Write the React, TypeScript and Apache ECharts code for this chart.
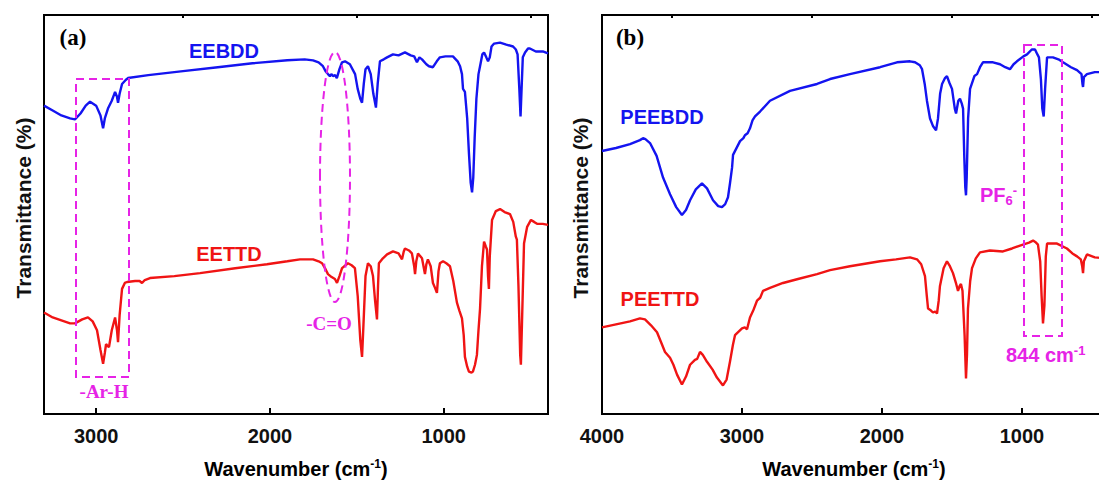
import React, { useEffect, useRef } from "react";
import * as echarts from "echarts";

// ---- data (wavenumber cm-1, relative transmittance, arbitrary units) ----
const eebdd: number[][] = [
  [3300, 313], [3250, 308], [3200, 303], [3150, 300], [3122, 299], [3090, 305], [3060, 313], [3035, 317],
  [3000, 313], [2975, 303], [2960, 290], [2950, 300], [2932, 310], [2910, 318], [2891, 327], [2880, 322],
  [2874, 316], [2865, 325], [2851, 335], [2830, 339], [2817, 341], [2700, 344], [2500, 348], [2300, 352],
  [2100, 356], [1900, 359], [1800, 360], [1752, 359], [1720, 357], [1695, 353], [1680, 348], [1666, 345],
  [1655, 343], [1645, 345], [1637, 343], [1625, 344], [1615, 341], [1600, 350], [1585, 357], [1568, 358],
  [1540, 355], [1510, 345], [1495, 330], [1480, 320], [1470, 316], [1460, 335], [1450, 350], [1436, 353],
  [1420, 345], [1405, 325], [1390, 311], [1380, 335], [1367, 358], [1345, 360], [1326, 362], [1292, 365],
  [1260, 364], [1223, 367], [1190, 364], [1170, 363], [1154, 357], [1140, 362], [1125, 360], [1100, 355],
  [1085, 353], [1062, 352], [1040, 358], [1022, 362], [990, 363], [947, 363], [920, 358], [906, 353],
  [895, 345], [889, 330], [878, 327], [865, 300], [855, 265], [845, 235], [837, 225], [830, 240],
  [822, 280], [812, 320], [800, 345], [791, 353], [778, 365], [768, 367], [755, 362], [745, 358],
  [735, 362], [725, 373], [710, 376], [676, 377], [640, 375], [601, 373], [585, 370], [575, 365],
  [565, 330], [558, 302], [552, 330], [545, 362], [532, 367], [515, 371], [504, 371], [470, 368],
  [430, 368], [400, 366],
];

const eettd: number[][] = [
  [3300, 103], [3250, 98], [3200, 95], [3150, 92], [3122, 92], [3080, 96], [3047, 98], [3020, 94],
  [2995, 85], [2975, 65], [2960, 51], [2950, 62], [2943, 71], [2935, 69], [2926, 68], [2910, 85],
  [2891, 98], [2880, 85], [2874, 73], [2865, 100], [2851, 127], [2835, 133], [2822, 134], [2776, 135],
  [2750, 135], [2736, 133], [2720, 136], [2690, 138], [2550, 140], [2402, 143], [2200, 148], [2017, 152],
  [1900, 155], [1827, 157], [1752, 157], [1720, 155], [1700, 153], [1680, 147], [1666, 142], [1645, 139],
  [1626, 137], [1614, 133], [1600, 140], [1585, 148], [1551, 153], [1530, 151], [1511, 148], [1495, 120],
  [1480, 75], [1470, 58], [1462, 90], [1450, 140], [1436, 153], [1420, 150], [1407, 140], [1395, 115],
  [1384, 96], [1378, 130], [1373, 153], [1350, 158], [1326, 162], [1292, 165], [1260, 163], [1240, 157],
  [1230, 165], [1223, 168], [1200, 166], [1183, 163], [1170, 150], [1165, 142], [1158, 155], [1148, 163],
  [1125, 158], [1108, 142], [1100, 152], [1091, 157], [1075, 150], [1062, 133], [1050, 128], [1039, 123],
  [1030, 145], [1022, 153], [1004, 155], [985, 153], [964, 150], [945, 135], [924, 113], [910, 105],
  [895, 97], [885, 80], [878, 58], [865, 48], [855, 43], [840, 42], [832, 43], [820, 50],
  [809, 60], [800, 85], [791, 107], [780, 150], [768, 175], [758, 170], [751, 167], [745, 140],
  [740, 127], [735, 160], [722, 197], [700, 206], [676, 208], [650, 205], [619, 203], [600, 195],
  [585, 180], [579, 177], [570, 130], [560, 60], [556, 50], [550, 90], [538, 173], [520, 190],
  [498, 197], [480, 195], [463, 193], [430, 193], [400, 192],
];

const peebdd: number[][] = [
  [4000, 267], [3900, 270], [3800, 274], [3729, 278], [3707, 280], [3690, 279], [3657, 275], [3610, 262],
  [3564, 240], [3514, 223], [3470, 210], [3429, 202], [3400, 207], [3371, 217], [3330, 228], [3286, 234],
  [3250, 229], [3207, 217], [3170, 211], [3143, 210], [3120, 213], [3100, 220], [3085, 235], [3071, 250],
  [3064, 263], [3014, 277], [2990, 280], [2979, 283], [2960, 285], [2943, 290], [2925, 298], [2907, 302],
  [2871, 307], [2800, 318], [2657, 328], [2464, 335], [2371, 340], [2229, 345], [2014, 352], [1893, 357],
  [1800, 358], [1764, 357], [1730, 354], [1714, 350], [1695, 335], [1679, 318], [1657, 300], [1635, 292],
  [1614, 288], [1600, 300], [1585, 325], [1571, 335], [1550, 341], [1536, 343], [1518, 336], [1500, 330],
  [1480, 310], [1471, 305], [1455, 318], [1443, 320], [1430, 315], [1421, 310], [1412, 260], [1405, 230],
  [1400, 222], [1395, 240], [1385, 300], [1371, 330], [1340, 343], [1321, 345], [1300, 352], [1279, 357],
  [1207, 357], [1157, 355], [1120, 352], [1086, 350], [1060, 355], [1036, 358], [990, 363], [964, 365],
  [930, 370], [907, 370], [890, 365], [879, 362], [865, 340], [855, 310], [845, 302], [835, 330],
  [821, 362], [779, 362], [740, 360], [707, 357], [650, 352], [607, 349], [575, 345], [568, 335],
  [564, 332], [558, 342], [536, 345], [480, 347], [400, 347],
];

const peettd: number[][] = [
  [4000, 88], [3900, 91], [3800, 94], [3729, 97], [3693, 96], [3650, 90], [3607, 83], [3570, 70],
  [3550, 63], [3514, 57], [3490, 50], [3464, 40], [3429, 30], [3400, 38], [3371, 50], [3336, 55],
  [3320, 56], [3300, 63], [3280, 60], [3250, 53], [3210, 45], [3179, 37], [3136, 29], [3110, 35],
  [3086, 53], [3065, 70], [3050, 80], [3000, 87], [2980, 88], [2964, 86], [2943, 98], [2920, 105],
  [2893, 115], [2870, 118], [2850, 125], [2800, 128], [2707, 133], [2600, 137], [2464, 142], [2371, 146],
  [2229, 150], [2014, 155], [1900, 157], [1800, 159], [1750, 157], [1720, 152], [1693, 140], [1680, 120],
  [1671, 107], [1650, 105], [1636, 103], [1620, 104], [1607, 102], [1595, 115], [1586, 130], [1560, 148],
  [1536, 155], [1515, 150], [1493, 143], [1470, 132], [1457, 125], [1445, 130], [1436, 132], [1425, 125],
  [1410, 80], [1400, 36], [1393, 60], [1386, 107], [1370, 135], [1357, 148], [1330, 158], [1300, 164],
  [1229, 166], [1136, 165], [1071, 168], [993, 172], [950, 174], [921, 176], [900, 174], [886, 172],
  [870, 155], [860, 120], [850, 92], [840, 110], [830, 160], [821, 173], [750, 173], [679, 168],
  [640, 163], [607, 160], [580, 157], [570, 150], [564, 143], [558, 155], [536, 162], [480, 159],
  [400, 158],
];

const leftMajorTicks = [1000, 2000, 3000];
const leftMinorTicks = [500, 1500, 2500];
const rightMajorTicks = [1000, 2000, 3000, 4000];
const rightMinorTicks = [500, 1500, 2500, 3500];

const BLUE = "#1414f0";
const RED = "#f01414";
const MAGENTA = "#e623e6";
const SANS = "Liberation Sans, Arial, sans-serif";
const SERIF = "Liberation Serif, Times New Roman, serif";

export default function App() {
  const ref = useRef<HTMLDivElement>(null);

  useEffect(() => {
    document.documentElement.style.overflow = "hidden";
    document.body.style.overflow = "hidden";
    document.body.style.margin = "0";
    const chart = echarts.init(ref.current!, undefined, { renderer: "svg" });

    const grids = [
      { left: 44, top: 15, width: 504, height: 405 },
      { left: 602, top: 15, width: 504, height: 405 },
    ];

    const xMain = (gi: number, min: number, max: number, major: number[]) => ({
      type: "value",
      gridIndex: gi,
      inverse: true,
      min,
      max,
      name: "Wavenumber (cm{sup|-1})",
      nameLocation: "middle",
      nameGap: 44,
      nameTextStyle: {
        fontSize: 20,
        fontWeight: "bold",
        fontFamily: SANS,
        color: "#000",
        rich: {
          sup: { fontSize: 12, fontWeight: "bold", fontFamily: SANS, color: "#000", verticalAlign: "top", padding: [0, 0, 10, 0] },
        },
      },
      axisLine: { show: true, lineStyle: { color: "#000", width: 2 } },
      axisTick: { show: true, inside: true, length: 6, lineStyle: { color: "#000", width: 2 }, customValues: major },
      axisLabel: {
        show: true,
        customValues: major,
        margin: 12,
        fontSize: 20,
        fontWeight: "bold",
        fontFamily: SANS,
        color: "#111",
        formatter: (v: number) => String(Math.round(v)),
      },
      splitLine: { show: false },
    });
    const xMinor = (gi: number, min: number, max: number, minor: number[]) => ({
      type: "value",
      gridIndex: gi,
      inverse: true,
      min,
      max,
      axisLine: { show: false },
      axisTick: { show: true, inside: true, length: 3, lineStyle: { color: "#000", width: 2 }, customValues: minor },
      axisLabel: { show: false },
      splitLine: { show: false },
    });
    const yAx = (gi: number) => ({
      type: "value",
      gridIndex: gi,
      min: 0,
      max: 405,
      axisLine: { show: true, lineStyle: { color: "#000", width: 2 } },
      axisTick: { show: false },
      axisLabel: { show: false },
      splitLine: { show: false },
    });

    const line = (name: string, data: number[][], xi: number, yi: number, color: string) => ({
      name,
      type: "line",
      data,
      xAxisIndex: xi,
      yAxisIndex: yi,
      showSymbol: false,
      symbol: "none",
      lineStyle: { color, width: 2.4 },
      z: 3,
    });

    const txt = (text: string, x: number, y: number, color: string, size: number, family: string, extra: any = {}) => ({
      type: "text",
      x,
      y,
      z: 10,
      style: {
        text,
        fill: color,
        font: `bold ${size}px ${family}`,
        fontSize: size,
        fontWeight: "bold",
        fontFamily: family,
        align: "center",
        verticalAlign: "middle",
        ...extra,
      },
    });

    const dashed = { stroke: MAGENTA, lineWidth: 2, fill: "none", lineDash: [8, 5] };

    chart.setOption({
      animation: false,
      grid: grids.map((g) => ({ ...g, show: true, borderColor: "#000", borderWidth: 2, backgroundColor: "transparent" })),
      xAxis: [
        xMain(0, 400, 3300, leftMajorTicks),
        xMinor(0, 400, 3300, leftMinorTicks),
        xMain(1, 400, 4000, rightMajorTicks),
        xMinor(1, 400, 4000, rightMinorTicks),
      ],
      yAxis: [yAx(0), yAx(1)],
      series: [
        line("EEBDD", eebdd, 0, 0, BLUE),
        line("EETTD", eettd, 0, 0, RED),
        line("PEEBDD", peebdd, 2, 1, BLUE),
        line("PEETTD", peettd, 2, 1, RED),
      ],
      graphic: [
        // y-axis titles
        { ...txt("Transmittance (%)", 23, 208, "#111", 21, SANS), rotation: Math.PI / 2 },
        { ...txt("Transmittance (%)", 580, 208, "#111", 21, SANS), rotation: Math.PI / 2 },
        // panel letters
        txt("(a)", 73, 37, "#000", 23, SERIF),
        txt("(b)", 630, 37, "#000", 23, SERIF),
        // series names
        txt("EEBDD", 224, 51, BLUE, 20, SANS),
        txt("EETTD", 229, 254, RED, 20, SANS),
        txt("PEEBDD", 662, 117, BLUE, 20, SANS),
        txt("PEETTD", 660, 299, RED, 20, SANS),
        // annotations panel (a)
        { type: "rect", z: 9, shape: { x: 76, y: 79, width: 53, height: 298 }, style: dashed },
        txt("-Ar-H", 104, 391, MAGENTA, 19, SERIF),
        { type: "ellipse", z: 9, shape: { cx: 335, cy: 177, rx: 15, ry: 125 }, style: dashed },
        txt("-C=O", 329, 323, MAGENTA, 19, SERIF),
        // annotations panel (b)
        { type: "rect", z: 9, shape: { x: 1024, y: 45, width: 38, height: 291 }, style: dashed },
        {
          type: "text",
          x: 980,
          y: 195,
          z: 10,
          style: {
            text: "PF{sub|6}{sup|-}",
            fill: MAGENTA,
            fontSize: 20,
            fontWeight: "bold",
            fontFamily: SANS,
            align: "left",
            verticalAlign: "middle",
            rich: {
              sub: { fontSize: 13, fontWeight: "bold", fontFamily: SANS, fill: MAGENTA, verticalAlign: "bottom", padding: [10, 0, 0, 0] },
              sup: { fontSize: 13, fontWeight: "bold", fontFamily: SANS, fill: MAGENTA, verticalAlign: "top", padding: [0, 0, 10, 0] },
            },
          },
        },
        {
          type: "text",
          x: 1006,
          y: 355,
          z: 10,
          style: {
            text: "844 cm{sup|-1}",
            fill: MAGENTA,
            fontSize: 20,
            fontWeight: "bold",
            fontFamily: SANS,
            align: "left",
            verticalAlign: "middle",
            rich: {
              sup: { fontSize: 13, fontWeight: "bold", fontFamily: SANS, fill: MAGENTA, verticalAlign: "top", padding: [0, 0, 10, 0] },
            },
          },
        },
      ],
    });

    return () => chart.dispose();
  }, []);

  return <div ref={ref} style={{ position: "absolute", left: 0, top: 0, width: 1120, height: 484 }} />;
}
